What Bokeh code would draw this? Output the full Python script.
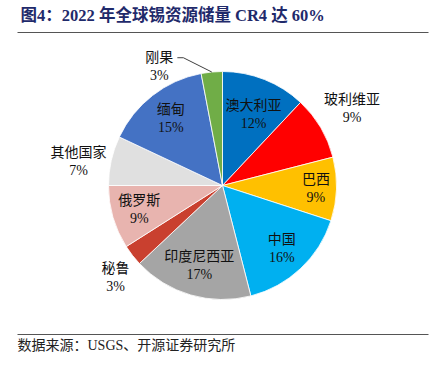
import numpy as np
from bokeh.plotting import figure
from bokeh.models import ColumnDataSource
from bokeh.core.properties import value
from bokeh.embed import file_html
from bokeh.resources import INLINE

# ---- data ----
countries = ["澳大利亚", "玻利维亚", "巴西", "中国", "印度尼西亚", "秘鲁", "俄罗斯", "其他国家", "缅甸", "刚果"]
shares = [12, 9, 9, 16, 17, 3, 9, 7, 15, 3]
title_text = "图4：2022 年全球锡资源储量 CR4 达 60%"
source_text = "数据来源：USGS、开源证券研究所"

# ---- styles ----
colors = ["#0070C0", "#FF0000", "#FFC000", "#00B0F0", "#A5A5A5", "#C9402F", "#E8B4AF", "#E0E0E0", "#4472C4", "#70AD47"]
label_r = [0.68, 1.32, 0.82, 0.76, 0.73, 1.24, 0.76, 1.28, 0.74, 1.18]
label_shift = [2, 0, 0, 0, 0, -3, 0, -3, 0, -22.6]  # degrees

W, H = 435, 371
cx, cy, R = 222, 186, 114
FONT = value("Liberation Serif, Noto Sans CJK SC")

p = figure(width=W, height=H, x_range=(0, W), y_range=(0, H),
           output_backend="svg", toolbar_location=None, min_border=0)
p.axis.visible = False
p.grid.visible = False
p.outline_line_color = None

vals = np.array(shares, dtype=float)
frac = vals / vals.sum()
cum = np.concatenate([[0], np.cumsum(frac)])
# clockwise from 12 o'clock
start = np.pi / 2 - 2 * np.pi * cum[:-1]
end = np.pi / 2 - 2 * np.pi * cum[1:]
src = ColumnDataSource(dict(start=start, end=end, color=colors))
p.wedge(x=cx, y=cy, radius=R, radius_units="screen", start_angle="start", end_angle="end",
        direction="clock", fill_color="color", line_color="white", line_width=0.8, source=src)

mid = np.pi / 2 - 2 * np.pi * (cum[:-1] + cum[1:]) / 2
ang = mid - np.radians(label_shift)
lx = cx + np.array(label_r) * R * np.cos(ang)
ly = cy + np.array(label_r) * R * np.sin(ang)
pct = [f"{v:d}%" for v in shares]
lsrc = ColumnDataSource(dict(x=lx, y1=ly + 9, y2=ly - 9, name=countries, pct=pct))
p.text(x="x", y="y1", text="name", source=lsrc, text_align="center", text_baseline="middle",
       text_font=FONT, text_font_size="14px", text_color="#111111")
p.text(x="x", y="y2", text="pct", source=lsrc, text_align="center", text_baseline="middle",
       text_font=FONT, text_font_size="14px", text_color="#111111")

# leader line for the small outside slice (刚果)
i = len(shares) - 1
ex, ey = cx + R * np.cos(mid[i]), cy + R * np.sin(mid[i])
p.line(x=[ex, lx[i] + 24, lx[i] + 18], y=[ey, ly[i] + 9, ly[i] + 9], line_color="#404040", line_width=1)

# title, rules, source
p.text(x=[20], y=[356], text=[title_text], text_font=FONT, text_font_size="16.5px",
       text_font_style="bold", text_color="#1F2A6B", text_baseline="middle")
p.segment(x0=[17, 17], y0=[339, 37], x1=[428, 428], y1=[339, 37], line_color="#555555", line_width=1)
p.text(x=[17], y=[26], text=[source_text], text_font=FONT, text_font_size="14px",
       text_color="#222222", text_baseline="middle")

open("out.html", "w").write(file_html(p, INLINE))
